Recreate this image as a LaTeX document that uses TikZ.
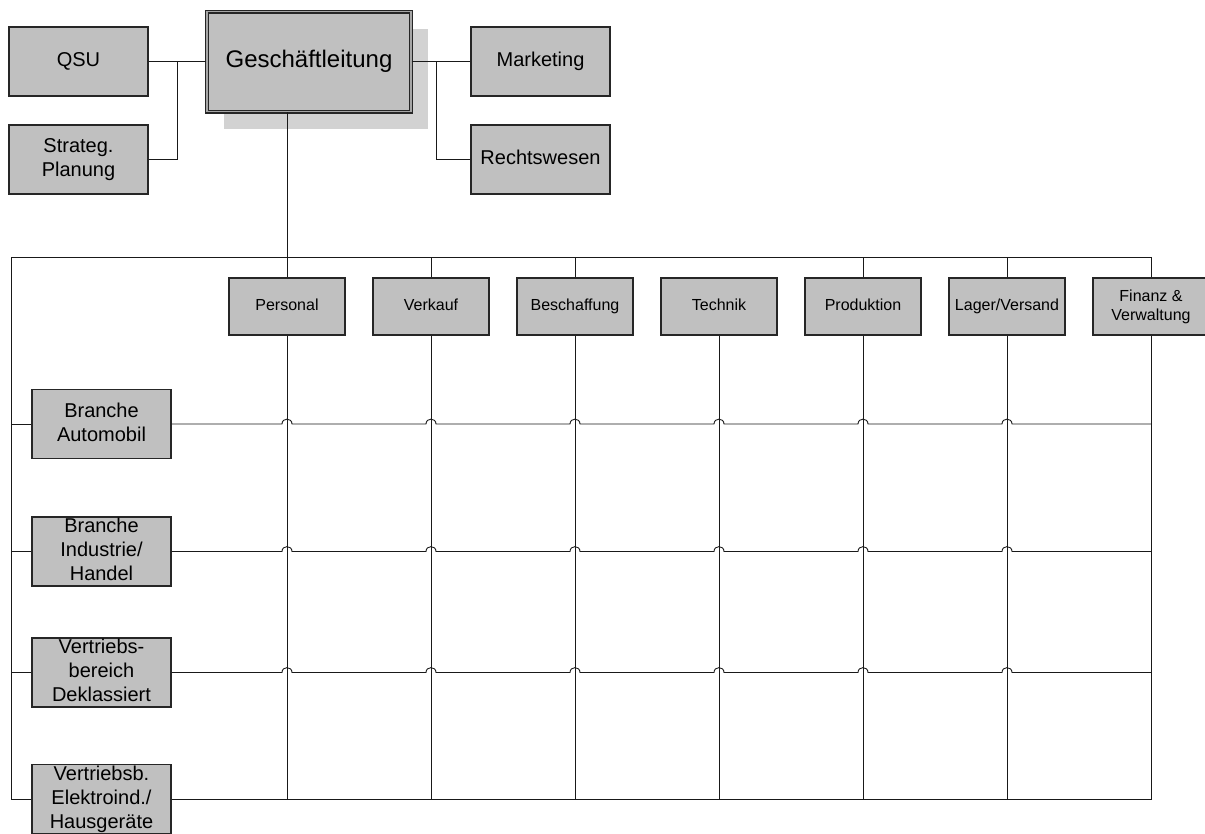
\documentclass[tikz,border=0pt]{standalone}
\usepackage{fontspec}
\setmainfont{Liberation Sans}
\usetikzlibrary{shadows}
\definecolor{boxgray}{HTML}{C0C0C0}
\definecolor{shadowgray}{HTML}{D2D2D2}

\begin{document}
\begin{tikzpicture}[x=1pt, y=-1pt,
    box/.style={draw=black!85, line width=1.1pt, fill=boxgray, align=center, inner sep=0pt,
                execute at begin node=\vphantom{Bg}},
    bigbox/.style={box, minimum width=139pt, minimum height=69pt, font=\fontsize{20}{24}\selectfont},
    deptbox/.style={box, minimum width=116pt, minimum height=57pt, font=\fontsize{16}{19}\selectfont},
    conn/.style={black!90, line width=0.9pt}]

    \useasboundingbox (0,0) rectangle (1205,833);

    % Frame of the matrix
    \coordinate (tl) at (11,257);
    \coordinate (br) at (1151,799);
    \draw[conn] (tl) rectangle (br);

    % Management and staff
    \node[box, minimum width=204pt, minimum height=100pt, double=gray!70, double distance=1.8pt,
          font=\fontsize{24}{28}\selectfont,
          drop shadow={shadow xshift=17pt, shadow yshift=-17pt, fill=shadowgray, opacity=1}]
          (gl) at (309,61.5) {Geschäftleitung};
    \node[bigbox] (qsu) at (78.5,61.5) {QSU};
    \node[bigbox] (plan) at (78.5,159.5) {Strateg.\\Planung};
    \node[bigbox] (mark) at (540.5,61.5) {Marketing};
    \node[bigbox] (recht) at (540.5,159.5) {Rechtswesen};

    % Staff connections
    \coordinate (jl) at (177,61.5);
    \coordinate (jr) at (436,61.5);
    \draw[conn] (qsu.east) -- (gl.west);
    \draw[conn] (plan.east) -| (jl);
    \draw[conn] (gl.east) -- (mark.west);
    \draw[conn] (recht.west) -| (jr);

    % Departments
    \foreach \i/\name in {1/Personal, 2/Verkauf, 3/Beschaffung, 4/Technik, 5/Produktion,
                          6/{Lager/Versand}, 7/{Finanz \&\\Verwaltung}}
        \node[deptbox] (d\i) at ({287+144*(\i-1)}, 306.5) {\name};

    % Divisions
    \foreach \j/\y/\name in {1/424/{Branche\\Automobil}, 2/551.5/{Branche\\Industrie/\\Handel},
                             3/672.5/{Vertriebs-\\bereich\\Deklassiert},
                             4/799/{Vertriebsb.\\Elektroind./\\Hausgeräte}}
        \node[bigbox] (r\j) at (101.5,\y) {\name};

    % Management down to the matrix
    \draw[conn] (gl.south -| d1) -- (tl -| d1);

    % Department lines
    \foreach \i in {1,2,3,5,6}
        \draw[conn] (d\i.north) -- (d\i.north |- tl);
    \foreach \i in {1,...,6}
        \draw[conn] (d\i.south) -- (d\i.south |- br);

    % Division lines (hops over the department lines)
    \foreach \j in {1,...,4}
        \draw[conn] (r\j.west) -- (r\j.west -| tl);
    \foreach \j in {1,2,3} {
        \draw[conn] (r\j.east)
            \foreach \i in {1,...,6} {
                -- ([xshift=-5pt]d\i.south |- r\j.east)
                .. controls +(0,-6.5) and +(0,-6.5) .. ([xshift=5pt]d\i.south |- r\j.east)
            }
            -- (r\j.east -| br);
    }

\end{tikzpicture}
\end{document}
